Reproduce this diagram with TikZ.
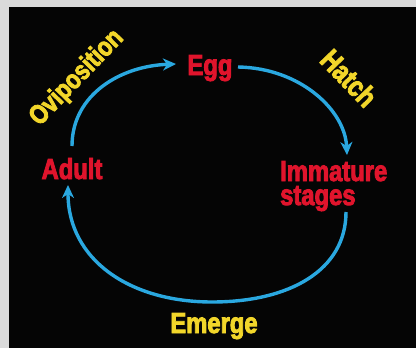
\documentclass[tikz,border=0pt]{standalone}
\usepackage{fontspec}
\usetikzlibrary{arrows.meta}
\newfontfamily\lblfont[FakeStretch=0.82,FakeBold=3]{Liberation Sans}
\definecolor{frame}{HTML}{DADADA}
\definecolor{bg}{HTML}{050505}
\definecolor{stagered}{HTML}{E0142C}
\definecolor{actyellow}{HTML}{F2D62A}
\definecolor{cyc}{HTML}{2AA8E0}
\tikzset{
  stage/.style={text=stagered, font=\lblfont\bfseries\fontsize{29}{24}\selectfont, inner sep=0pt, anchor=base},
  action/.style={text=actyellow, font=\lblfont\bfseries\fontsize{29}{24}\selectfont, inner sep=0pt},
  cycle/.style={draw=cyc, line width=3.4pt, -{Stealth[length=13pt,width=12pt,inset=4pt]}}
}
\begin{document}
\begin{tikzpicture}[x=1pt,y=-1pt]
\useasboundingbox (0,0) rectangle (416,348);
\fill[frame] (0,0) rectangle (416,348);
\fill[bg] (9,7) rectangle (416,348);
\node[stage] (egg) at (210,75) {Egg};
\node[stage] (adult) at (72,179) {Adult};
\node[stage, anchor=base west, align=left] (imm) at (280,205) {Immature\\stages};
\node[action, anchor=base] (emerge) at (214,333) {Emerge};
\node[action, rotate=46, font=\lblfont\bfseries\fontsize{27}{24}\selectfont] (ovi) at (77,78) {Oviposition};
\node[action, rotate=-46] (hatch) at (349,78) {Hatch};
\coordinate (a1) at (72,146);
\coordinate (e1) at (176,64);
\coordinate (e2) at (238,67);
\coordinate (i1) at (347,155);
\coordinate (i2) at (346,212);
\coordinate (b1) at (212,302);
\coordinate (a2) at (68,185);
\draw[cycle] (a1) .. controls (72,95) and (120,66) .. (e1);
\draw[cycle] (e2) .. controls (300,68) and (345,110) .. (i1);
\draw[cycle] (i2) .. controls (346,270) and (290,302) .. (b1) .. controls (130,302) and (68,260) .. (a2);
\end{tikzpicture}
\end{document}
